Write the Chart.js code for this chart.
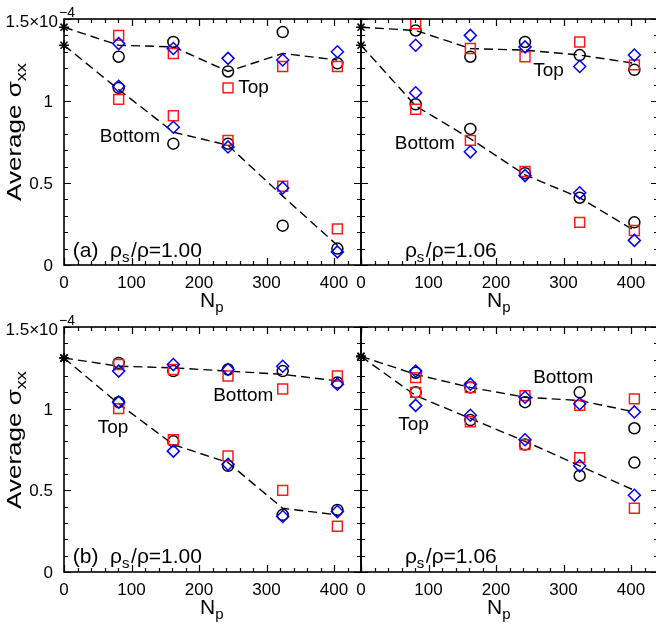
<!DOCTYPE html>
<html><head><meta charset="utf-8">
<script src="https://cdn.jsdelivr.net/npm/chart.js@4.4.0/dist/chart.umd.min.js"></script>
<style>
html,body{margin:0;padding:0;background:#fff;overflow:hidden;width:656px;height:625px}
#wrap{position:relative;width:656px;height:625px;overflow:hidden;background:#fff}
canvas{position:absolute;left:0;top:0}
</style></head><body><div id="wrap">
<canvas id="c0" width="700" height="625" style="width:700px;height:625px"></canvas>
<canvas id="c1" width="700" height="625" style="width:700px;height:625px"></canvas>
<canvas id="c2" width="700" height="625" style="width:700px;height:625px"></canvas>
<canvas id="c3" width="700" height="625" style="width:700px;height:625px"></canvas>
</div>
<script>
// ---------- DATA (values in units of 1e-4) ----------
const NP_LINE = [0, 81, 162, 243, 324, 405];
const NP_MARK = [81, 162, 243, 324, 405];
const X_TICKS = [0, 100, 200, 300, 400];
const Y_TICKS = [0, 0.5, 1, 1.5];
const Y_TICK_LABELS = ['0', '0.5', '1', '1.5×10'];
const Y_EXPONENT = '−4';

// panel (a) rho_s/rho = 1.00, top row
const A_LINE_UP  = [1.45, 1.34, 1.33, 1.18, 1.29, 1.25];
const A_LINE_LO  = [1.34, 1.07, 0.81, 0.73, 0.42, 0.12];
const A_CIRC_UP  = [1.27, 1.36, 1.18, 1.42, 1.23];
const A_CIRC_LO  = [1.08, 0.74, 0.74, 0.24, 0.10];
const A_SQ_UP    = [1.40, 1.29, 1.08, 1.21, 1.21];
const A_SQ_LO    = [1.01, 0.91, 0.76, 0.48, 0.22];
const A_DIA_UP   = [1.35, 1.32, 1.26, 1.25, 1.30];
const A_DIA_LO   = [1.09, 0.84, 0.72, 0.47, 0.08];

// rho_s/rho = 1.06, top row
const B_LINE_UP  = [1.45, 1.43, 1.32, 1.31, 1.28, 1.23];
const B_LINE_LO  = [1.34, 0.97, 0.77, 0.55, 0.41, 0.21];
const B_CIRC_UP  = [1.43, 1.27, 1.36, 1.28, 1.19];
const B_CIRC_LO  = [0.98, 0.83, 0.56, 0.41, 0.26];
const B_SQ_UP    = [1.47, 1.32, 1.27, 1.36, 1.22];
const B_SQ_LO    = [0.95, 0.76, 0.57, 0.26, 0.21];
const B_DIA_UP   = [1.34, 1.40, 1.33, 1.21, 1.28];
const B_DIA_LO   = [1.05, 0.69, 0.545, 0.44, 0.15];

// panel (b) rho_s/rho = 1.00, bottom row
const C_LINE_UP  = [1.31, 1.26, 1.25, 1.23, 1.21, 1.17];
const C_LINE_LO  = [1.31, 1.03, 0.78, 0.67, 0.39, 0.35];
const C_CIRC_UP  = [1.28, 1.23, 1.24, 1.23, 1.16];
const C_CIRC_LO  = [1.04, 0.80, 0.65, 0.35, 0.38];
const C_SQ_UP    = [1.27, 1.24, 1.20, 1.12, 1.20];
const C_SQ_LO    = [1.00, 0.81, 0.71, 0.50, 0.28];
const C_DIA_UP   = [1.23, 1.27, 1.24, 1.26, 1.15];
const C_DIA_LO   = [1.04, 0.74, 0.66, 0.34, 0.37];

// rho_s/rho = 1.06, bottom row
const D_LINE_UP  = [1.32, 1.21, 1.13, 1.07, 1.05, 0.98];
const D_LINE_LO  = [1.32, 1.08, 0.94, 0.80, 0.65, 0.50];
const D_CIRC_UP  = [1.22, 1.13, 1.04, 1.10, 0.88];
const D_CIRC_LO  = [1.10, 0.93, 0.78, 0.59, 0.67];
const D_SQ_UP    = [1.19, 1.13, 1.08, 1.02, 1.06];
const D_SQ_LO    = [1.10, 0.92, 0.78, 0.70, 0.39];
const D_DIA_UP   = [1.23, 1.15, 1.07, 1.03, 0.98];
const D_DIA_LO   = [1.02, 0.96, 0.81, 0.65, 0.47];

// in-panel labels: text parts placed at (Np, sigma) data positions
const A_LABELS = [
  {x: 258, y: 1.05, parts: [{t: 'Top'}]},
  {x: 53,  y: 0.75, parts: [{t: 'Bottom'}]},
  {x: 13,  y: 0.05, big: 1, parts: [{t: '(a)  ρ'}, {t: 's', sub: 1}, {t: '/ρ=1.00'}]}
];
const B_LABELS = [
  {x: 255, y: 1.15, parts: [{t: 'Top'}]},
  {x: 50,  y: 0.71, parts: [{t: 'Bottom'}]},
  {x: 65,  y: 0.05, big: 1, parts: [{t: 'ρ'}, {t: 's', sub: 1}, {t: '/ρ=1.06'}]}
];
const C_LABELS = [
  {x: 221, y: 1.05, parts: [{t: 'Bottom'}]},
  {x: 50,  y: 0.85, parts: [{t: 'Top'}]},
  {x: 13,  y: 0.055, big: 1, parts: [{t: '(b)  ρ'}, {t: 's', sub: 1}, {t: '/ρ=1.00'}]}
];
const D_LABELS = [
  {x: 255, y: 1.16, parts: [{t: 'Bottom'}]},
  {x: 55,  y: 0.87, parts: [{t: 'Top'}]},
  {x: 65,  y: 0.055, big: 1, parts: [{t: 'ρ'}, {t: 's', sub: 1}, {t: '/ρ=1.06'}]}
];

// ---------- LAYOUT ----------
const CW = 700, CH = 625;
const FONT = '"Liberation Sans", Arial, Helvetica, sans-serif';
const LAYOUT = [
  {l: 64,  t: 19,  r: 361, b: 265, yLabels: true,  nStart: 200},
  {l: 361, t: 19,  r: 658, b: 265, yLabels: false, nStart: 487},
  {l: 64,  t: 327, r: 361, b: 572, yLabels: true,  nStart: 200},
  {l: 361, t: 327, r: 658, b: 572, yLabels: false, nStart: 487}
];

function pts(xs, ys) { return xs.map((x, i) => ({x: x, y: ys[i]})); }

function drawRich(ctx, x, y, parts, size, align) {
  const subSize = Math.round(size * 0.72);
  const gap = 1.5;
  let w = 0;
  parts.forEach(p => {
    ctx.font = (p.sub ? subSize : size) + 'px ' + FONT;
    w += ctx.measureText(p.t).width + (p.sub ? gap : 0);
  });
  let cx = align === 'center' ? x - w / 2 : x;
  ctx.textAlign = 'left';
  ctx.textBaseline = 'alphabetic';
  parts.forEach(p => {
    ctx.font = (p.sub ? subSize : size) + 'px ' + FONT;
    ctx.fillText(p.t, cx, p.sub ? y + size * 0.25 : y);
    cx += ctx.measureText(p.t).width + (p.sub ? gap : 0);
  });
}

function makePlugin(lay, labels) {
  return {
    id: 'frame',
    afterDraw(chart) {
      const ctx = chart.ctx;
      const xs = chart.scales.x, ys = chart.scales.y;
      const a = chart.chartArea;
      ctx.save();
      ctx.strokeStyle = '#000';
      ctx.fillStyle = '#000';
      // frame
      ctx.lineWidth = 1.6;
      ctx.strokeRect(a.left, a.top, a.right - a.left, a.bottom - a.top);
      // ticks (inward on every side)
      ctx.lineWidth = 1.2;
      ctx.beginPath();
      for (let v = 0; v <= 440; v += 20) {
        const px = Math.round(xs.getPixelForValue(v)) + 0.5;
        const len = (v % 100 === 0) ? 7 : 4;
        ctx.moveTo(px, a.bottom); ctx.lineTo(px, a.bottom - len);
        ctx.moveTo(px, a.top); ctx.lineTo(px, a.top + len);
      }
      for (let k = 0; k <= 15; k++) {
        const v = k / 10;
        const py = Math.round(ys.getPixelForValue(v)) + 0.5;
        const len = (k % 5 === 0) ? 7 : 4;
        ctx.moveTo(a.left, py); ctx.lineTo(a.left + len, py);
        ctx.moveTo(a.right, py); ctx.lineTo(a.right - len, py);
      }
      ctx.stroke();
      // x tick labels
      ctx.font = '17px ' + FONT;
      ctx.textAlign = 'center';
      ctx.textBaseline = 'alphabetic';
      X_TICKS.forEach(v => {
        ctx.fillText(String(v), xs.getPixelForValue(v), a.bottom + 23);
      });
      // x title N_p
      drawRich(ctx, lay.nStart, a.bottom + 42, [{t: 'N'}, {t: 'p', sub: 1}], 21, 'left');
      // y tick labels + title
      if (lay.yLabels) {
        Y_TICKS.forEach((v, i) => {
          const py = ys.getPixelForValue(v);
          ctx.font = '17px ' + FONT;
          ctx.textAlign = 'right';
          ctx.textBaseline = 'alphabetic';
          if (i === Y_TICKS.length - 1) {
            ctx.fillText(Y_TICK_LABELS[i], a.left - 6, py + 8);
            ctx.font = '14px ' + FONT;
            ctx.textAlign = 'left';
            ctx.fillText(Y_EXPONENT, a.left - 5, py - 2);
          } else {
            ctx.fillText(Y_TICK_LABELS[i], a.left - 11, py + 6);
          }
        });
        ctx.save();
        ctx.translate(21, a.top + 112);
        ctx.rotate(-Math.PI / 2);
        ctx.scale(1.3, 1);
        drawRich(ctx, 0, 0, [{t: 'Average σ'}, {t: 'xx', sub: 1}], 20, 'center');
        ctx.restore();
      }
      // in-panel labels
      labels.forEach(L => {
        drawRich(ctx, xs.getPixelForValue(L.x), ys.getPixelForValue(L.y), L.parts, L.big ? 21 : 19, 'left');
      });
      ctx.restore();
    }
  };
}

function build(id, lay, d, labels) {
  const lineDs = (vals) => ({
    type: 'line', data: pts(NP_LINE, vals),
    borderColor: '#000', borderWidth: 1.4, borderDash: [9, 5],
    pointStyle: 'star', pointRadius: c => c.dataIndex === 0 ? 5 : 0,
    pointBorderColor: '#000', pointBorderWidth: 1.6, pointBackgroundColor: '#000',
    tension: 0, fill: false, clip: false, order: 4
  });
  const mk = (vals, style, color, r, ord) => ({
    type: 'scatter', data: pts(NP_MARK, vals), showLine: false,
    pointStyle: style, pointRadius: r, pointBorderColor: color,
    pointBackgroundColor: 'rgba(0,0,0,0)', pointBorderWidth: 1.5,
    clip: false, order: ord
  });
  new Chart(document.getElementById(id), {
    type: 'scatter',
    data: {
      datasets: [
        lineDs(d.lineUp), lineDs(d.lineLo),
        mk(d.circUp, 'circle', '#000', 5.5, 3), mk(d.circLo, 'circle', '#000', 5.5, 3),
        mk(d.sqUp, 'rect', '#ff1a1a', 7, 2), mk(d.sqLo, 'rect', '#ff1a1a', 7, 2),
        mk(d.diaUp, 'rectRot', '#0000ff', 6, 1), mk(d.diaLo, 'rectRot', '#0000ff', 6, 1)
      ]
    },
    options: {
      responsive: false, animation: false, devicePixelRatio: 1,
      layout: {padding: {left: lay.l, top: lay.t, right: CW - lay.r, bottom: CH - lay.b}},
      plugins: {legend: {display: false}, tooltip: {enabled: false}},
      events: [],
      scales: {
        x: {type: 'linear', min: 0, max: 440, display: false},
        y: {type: 'linear', min: 0, max: 1.5, display: false}
      }
    },
    plugins: [makePlugin(lay, labels)]
  });
}

build('c0', LAYOUT[0], {lineUp: A_LINE_UP, lineLo: A_LINE_LO, circUp: A_CIRC_UP, circLo: A_CIRC_LO, sqUp: A_SQ_UP, sqLo: A_SQ_LO, diaUp: A_DIA_UP, diaLo: A_DIA_LO}, A_LABELS);
build('c1', LAYOUT[1], {lineUp: B_LINE_UP, lineLo: B_LINE_LO, circUp: B_CIRC_UP, circLo: B_CIRC_LO, sqUp: B_SQ_UP, sqLo: B_SQ_LO, diaUp: B_DIA_UP, diaLo: B_DIA_LO}, B_LABELS);
build('c2', LAYOUT[2], {lineUp: C_LINE_UP, lineLo: C_LINE_LO, circUp: C_CIRC_UP, circLo: C_CIRC_LO, sqUp: C_SQ_UP, sqLo: C_SQ_LO, diaUp: C_DIA_UP, diaLo: C_DIA_LO}, C_LABELS);
build('c3', LAYOUT[3], {lineUp: D_LINE_UP, lineLo: D_LINE_LO, circUp: D_CIRC_UP, circLo: D_CIRC_LO, sqUp: D_SQ_UP, sqLo: D_SQ_LO, diaUp: D_DIA_UP, diaLo: D_DIA_LO}, D_LABELS);
</script>
</body></html>
